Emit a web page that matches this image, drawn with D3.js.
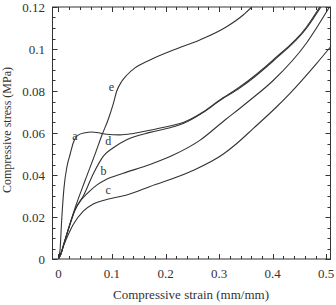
<!DOCTYPE html>
<html>
<head>
<meta charset="utf-8">
<script src="https://cdn.jsdelivr.net/npm/d3@7"></script>
<style>
  body { margin: 0; background: #fff; }
  text { font-family: "Liberation Serif", "DejaVu Serif", serif; fill: #333; }
</style>
</head>
<body>
<script>
// curve data: [strain, stress]
const curveA = [[0,0],[0.003,0.004],[0.006,0.018],[0.0105,0.034],[0.016,0.044],[0.022,0.050],[0.028,0.0555],
  [0.037,0.0590],[0.05,0.0601],[0.062,0.0605],[0.075,0.0601],[0.09,0.0594],[0.115,0.0591],[0.14,0.0598],
  [0.171,0.0613],[0.208,0.0633],[0.233,0.0650],[0.27,0.0700],[0.30,0.0755],[0.339,0.0820],[0.401,0.0948],
  [0.4636,0.1106],[0.488,0.12]];
const curveB = [[0,0],[0.004,0.002],[0.01,0.007],[0.02,0.0152],[0.031,0.0232],[0.042,0.0280],[0.053,0.0310],
  [0.0715,0.0352],[0.09,0.0380],[0.121,0.0408],[0.171,0.0450],[0.2145,0.0495],[0.264,0.0565],[0.311,0.0662],
  [0.339,0.0718],[0.358,0.0757],[0.401,0.0850],[0.4636,0.1030],[0.506,0.12]];
const curveC = [[0,0],[0.004,0.002],[0.01,0.0065],[0.02,0.0125],[0.028,0.0165],[0.0465,0.0228],[0.065,0.0262],
  [0.09,0.0283],[0.1275,0.0305],[0.171,0.0345],[0.25,0.0420],[0.308,0.0500],[0.333,0.0550],[0.364,0.0622],
  [0.4076,0.0725],[0.4324,0.0789],[0.4823,0.0932],[0.508,0.101]];
const curveD = [[0,0],[0.004,0.002],[0.01,0.007],[0.02,0.0152],[0.031,0.0235],[0.0465,0.0300],[0.065,0.0405],
  [0.084,0.0490],[0.1025,0.0530],[0.1275,0.0568],[0.171,0.0603],[0.2085,0.0625],[0.233,0.0645],[0.27,0.0697],
  [0.30,0.0752],[0.339,0.0815],[0.401,0.0943],[0.4636,0.1100],[0.49,0.12]];
const curveE = [[0,0],[0.004,0.002],[0.01,0.007],[0.02,0.0155],[0.031,0.0242],[0.05,0.0375],[0.07,0.0510],
  [0.081,0.0588],[0.0935,0.0668],[0.102,0.0735],[0.109,0.0800],[0.118,0.0845],[0.1275,0.0875],[0.143,0.0910],
  [0.171,0.0948],[0.2145,0.0995],[0.264,0.1043],[0.314,0.1106],[0.345,0.1162],[0.361,0.12]];

const curves = [curveA, curveB, curveC, curveD, curveE];
const curveLabels = [
  { name: 'a', x: 0.031, y: 0.0565 },
  { name: 'b', x: 0.084, y: 0.0400 },
  { name: 'c', x: 0.093, y: 0.0310 },
  { name: 'd', x: 0.093, y: 0.0545 },
  { name: 'e', x: 0.099, y: 0.0800 }
];

const xTicks = [0, 0.1, 0.2, 0.3, 0.4, 0.5];
const yTicks = [0, 0.02, 0.04, 0.06, 0.08, 0.1, 0.12];

const svgWidth = 336;
const svgHeight = 305;

const svg = d3.select('body')
    .append('svg')
    .attr('width', svgWidth)
    .attr('height', svgHeight);

const xScale = d3.scaleLinear()
    .domain([-0.011, 0.508])
    .range([52.5, 330.5]);

const yScale = d3.scaleLinear()
    .domain([0, 0.12])
    .range([259, 7]);

const plotL = 52.5, plotR = 330.5, plotT = 7, plotB = 259;
const ink = '#333';

// frame
svg.append('rect')
    .attr('x', plotL).attr('y', plotT)
    .attr('width', plotR - plotL).attr('height', plotB - plotT)
    .attr('fill', 'none').attr('stroke', ink).attr('stroke-width', 1);

// minor ticks
const xMinor = d3.range(0, 0.501, 0.02);
const yMinor = d3.range(0, 0.1201, 0.005);

function tickMarks(g, vals, scale, horizontal, len) {
  vals.forEach(v => {
    const p = Math.round(scale(v)) + 0.5;
    if (horizontal) {
      g.append('line').attr('x1', p).attr('x2', p).attr('y1', plotB).attr('y2', plotB - len);
      g.append('line').attr('x1', p).attr('x2', p).attr('y1', plotT).attr('y2', plotT + len);
    } else {
      g.append('line').attr('y1', p).attr('y2', p).attr('x1', plotL).attr('x2', plotL + len);
      g.append('line').attr('y1', p).attr('y2', p).attr('x1', plotR).attr('x2', plotR - len);
    }
  });
}

const ticks = svg.append('g').attr('stroke', ink).attr('stroke-width', 1);
tickMarks(ticks, xMinor, xScale, true, 3);
tickMarks(ticks, yMinor, yScale, false, 3);
tickMarks(ticks, xTicks, xScale, true, 5);
tickMarks(ticks, yTicks, yScale, false, 5);

// tick labels
svg.selectAll('.xlab')
    .data(xTicks)
    .enter()
    .append('text')
    .attr('x', d => xScale(d))
    .attr('y', 278)
    .attr('font-size', 13)
    .attr('text-anchor', 'middle')
    .text(d => d);

svg.selectAll('.ylab')
    .data(yTicks)
    .enter()
    .append('text')
    .attr('x', 45)
    .attr('y', d => yScale(d) + 4.5)
    .attr('font-size', 13)
    .attr('text-anchor', 'end')
    .text(d => d);

// axis titles
svg.append('text')
    .attr('x', 191)
    .attr('y', 299)
    .attr('font-size', 13)
    .attr('text-anchor', 'middle')
    .text('Compressive strain (mm/mm)');

svg.append('text')
    .attr('transform', 'translate(11,130) rotate(-90)')
    .attr('font-size', 12)
    .attr('text-anchor', 'middle')
    .text('Compressive stress (MPa)');

// curves
const line = d3.line()
    .x(d => xScale(d[0]))
    .y(d => yScale(d[1]))
    .curve(d3.curveMonotoneX);

svg.append('clipPath').attr('id', 'plot')
    .append('rect')
    .attr('x', plotL).attr('y', plotT)
    .attr('width', plotR - plotL).attr('height', plotB - plotT);

svg.append('g')
    .attr('clip-path', 'url(#plot)')
    .selectAll('path')
    .data(curves)
    .enter()
    .append('path')
    .attr('d', line)
    .attr('fill', 'none')
    .attr('stroke', ink)
    .attr('stroke-width', 1.1);

svg.selectAll('.clab')
    .data(curveLabels)
    .enter()
    .append('text')
    .attr('x', d => xScale(d.x))
    .attr('y', d => yScale(d.y))
    .attr('font-size', 12)
    .attr('text-anchor', 'middle')
    .text(d => d.name);
</script>
</body>
</html>
